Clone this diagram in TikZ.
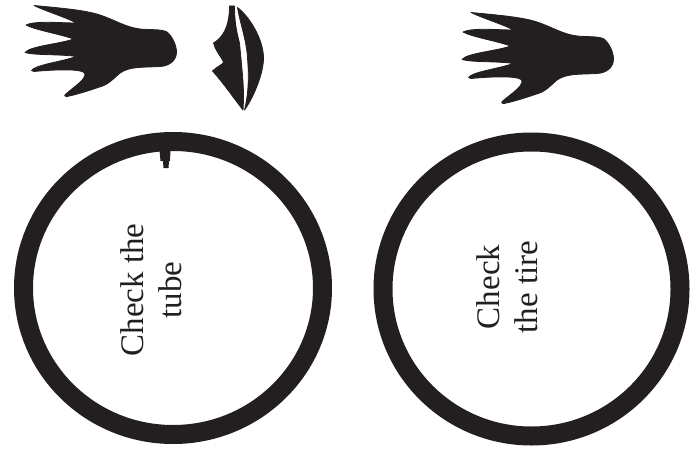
\documentclass[tikz,border=0pt]{standalone}
\usepackage{fontspec}
\setmainfont{Liberation Serif}
\definecolor{inkblack}{HTML}{231F20}
\tikzset{
  inkshape/.style={fill=inkblack, draw=inkblack, line width=0.8pt},
  handshape/.pic={
    \path[inkshape] (34,5.5) .. controls (60,8) and (85,10) .. (100,15)
      .. controls (115,20) and (125,27) .. (140,29)
      .. controls (150,30) and (162,29) .. (167,32)
      .. controls (172,36) and (176.5,45) .. (176.5,52)
      .. controls (176.5,60) and (170,66) .. (160,66.5)
      .. controls (145,67.5) and (130,66) .. (120,73)
      .. controls (112,80) and (108,85) .. (98,87.5)
      .. controls (88,91) and (75,95) .. (67,96.5)
      .. controls (64,96.5) and (64,95) .. (67,93)
      .. controls (75,86) and (85,80) .. (85,74)
      .. controls (85,69) and (60,69) .. (34,71.5)
      -- (31.5,70.5)
      .. controls (35,65) and (60,62) .. (76.5,56.5)
      .. controls (60,54) and (35,55.5) .. (25,52.5)
      .. controls (30,46) and (60,44) .. (73.5,39)
      .. controls (60,34) and (35,30) .. (26,25)
      .. controls (35,20.5) and (60,23) .. (76.5,23)
      .. controls (65,17) and (45,11) .. (34,5.5) -- cycle;
  },
  ringlabel/.style={rotate=90, align=center, font=\fontsize{33}{38}\selectfont, text=inkblack, inner sep=0pt}
}
\begin{document}
\begin{tikzpicture}[x=1pt, y=-1pt, line join=round]
  \useasboundingbox (0,0) rectangle (692,457);
  % hands
  \pic at (0,0) {handshape};
  \pic at (437,7) {handshape};
  % lips
  \path[inkshape] (229.5,6) -- (234.5,6) .. controls (234.5,20) and (236,30) .. (239.5,43)
    .. controls (242.5,75) and (244.5,90) .. (243,110)
    .. controls (235,100) and (225,85) .. (212.5,71)
    .. controls (216,67) and (224,64) .. (223.5,62)
    .. controls (220,55) and (215,50) .. (213.5,43)
    .. controls (222,38) and (229.5,28) .. (229.5,6) -- cycle;
  \path[inkshape] (237.5,7.5) .. controls (250,17) and (263.5,40) .. (263.5,58)
    .. controls (263.5,75) and (252,100) .. (244.5,110)
    .. controls (249.5,90) and (248.5,70) .. (247.5,58)
    .. controls (246.5,40) and (240.5,25) .. (237.5,7.5) -- cycle;
  % tires
  \foreach \cx/\cy/\rx/\ry in {173/288/149.5/146.5, 531.5/289/148.5/147}{
    \draw[inkblack, line width=19pt] (\cx,\cy) ellipse ({\rx} and {\ry});
  }
  % valve
  \fill[inkblack] (159.5,150) -- (170.5,150) -- (170,161) -- (169,161) -- (168.5,168) -- (163.5,168) -- (163,161) -- (160.5,161) -- cycle;
  % labels
  \node[ringlabel] (tubelabel) at (151.5,290) {Check the\\tube};
  \node[ringlabel] (tirelabel) at (507,287) {Check\\the tire};
\end{tikzpicture}
\end{document}
